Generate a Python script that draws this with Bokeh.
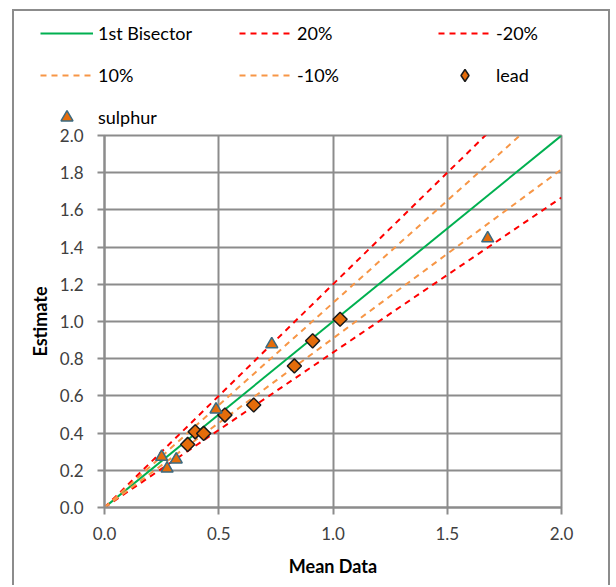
import math
from bokeh.plotting import figure
from bokeh.models import Legend, LegendItem, Range1d, FixedTicker, CustomJSTickFormatter
from bokeh.embed import file_html
from bokeh.resources import INLINE

# ---- data ----
lead_x = [0.364, 0.397, 0.434, 0.527, 0.653, 0.831, 0.911, 1.031]
lead_y = [0.339, 0.407, 0.398, 0.497, 0.551, 0.761, 0.896, 1.012]
sulphur_x = [0.250, 0.274, 0.314, 0.488, 0.732, 1.677]
sulphur_y = [0.272, 0.209, 0.258, 0.527, 0.878, 1.447]

bisector_x = [0.0, 2.0]
bisector_y = [0.0, 2.0]
plus20_x = [0.0, 2.0]
plus20_y = [0.0, 2.4]
minus20_x = [0.0, 2.0]
minus20_y = [0.0, 1.6667]
plus10_x = [0.0, 2.0]
plus10_y = [0.0, 2.2]
minus10_x = [0.0, 2.0]
minus10_y = [0.0, 1.8182]

yticks = [0.0, 0.2, 0.4, 0.6, 0.8, 1.0, 1.2, 1.4, 1.6, 1.8, 2.0]
xticks = [0.0, 0.5, 1.0, 1.5, 2.0]

FONT = "Lato"
GRID = "#8c8c8c"
GREEN = "#00B050"
RED = "#FF0000"
ORANGE = "#F79646"
MARK = "#E46C0A"
BORDER = "2px solid #8c8c8c"

line_styles = [
    ("1st Bisector", bisector_x, bisector_y, GREEN, None),
    ("20%", plus20_x, plus20_y, RED, "6 5"),
    ("-20%", minus20_x, minus20_y, RED, "6 5"),
    ("10%", plus10_x, plus10_y, ORANGE, "6 5"),
    ("-10%", minus10_x, minus10_y, ORANGE, "6 5"),
]
lead_style = dict(marker="square", angle=math.pi / 4, size=10, fill_color=MARK,
                  line_color="#1a1a1a", line_width=1.5)
sul_style = dict(marker="triangle", size=12, fill_color=MARK,
                 line_color="#3B6A80", line_width=1.5)

# ---------------- main plot ----------------
p = figure(width=598, height=459, output_backend="svg", toolbar_location=None,
           x_range=Range1d(0, 2), y_range=Range1d(0, 2),
           min_border_left=90, min_border_right=51, min_border_top=9, min_border_bottom=78)
p.margin = (0, 0, 0, 12)
p.styles = {"border-left": BORDER, "border-right": BORDER}
p.outline_line_color = GRID
p.outline_line_width = 2

for ax in (p.xaxis[0], p.yaxis[0]):
    ax.axis_line_color = GRID
    ax.axis_line_width = 2
    ax.major_tick_line_color = GRID
    ax.major_tick_line_width = 2
    ax.major_tick_out = 7
    ax.major_tick_in = 0
    ax.minor_tick_line_color = None
    ax.major_label_text_font = FONT
    ax.major_label_text_font_size = "17px"
    ax.major_label_text_color = "#404040"
    ax.axis_label_text_font = FONT
    ax.axis_label_text_font_size = "18px"
    ax.axis_label_text_font_style = "bold"
    ax.axis_label_text_color = "#000000"

p.xaxis.ticker = FixedTicker(ticks=xticks)
p.yaxis.ticker = FixedTicker(ticks=yticks)
fmt = CustomJSTickFormatter(code="return tick.toFixed(1);")
p.xaxis.formatter = fmt
p.yaxis.formatter = fmt
p.xaxis.axis_label = "Mean Data"
p.yaxis.axis_label = "Estimate"
p.xaxis.major_label_standoff = 12
p.yaxis.major_label_standoff = 14
p.xaxis.axis_label_standoff = 12
p.yaxis.axis_label_standoff = 6

p.xgrid.grid_line_color = GRID
p.xgrid.grid_line_width = 2
p.ygrid.grid_line_color = GRID
p.ygrid.grid_line_width = 2

for name, xs, ys, col, dash in line_styles:
    kw = dict(line_color=col, line_width=2)
    if dash:
        kw["line_dash"] = dash
    p.line(xs, ys, **kw)
p.scatter(lead_x, lead_y, **lead_style)
p.scatter(sulphur_x, sulphur_y, **sul_style)

# ---------------- legend strip (separate root, own frame) ----------------
lg = figure(width=598, height=117, output_backend="svg", toolbar_location=None,
            x_range=Range1d(0, 1), y_range=Range1d(0, 1),
            min_border=0, min_border_left=0, min_border_right=0,
            min_border_top=0, min_border_bottom=0)
lg.margin = (9, 0, 0, 12)
lg.styles = {"border-left": BORDER, "border-top": BORDER, "border-right": BORDER}
lg.axis.visible = False
lg.grid.visible = False
lg.outline_line_color = None

# legend proxies: one point each, placed outside the visible range
proxy_x = [5.0]
proxy_y = [5.0]
renders = {}
for name, xs, ys, col, dash in line_styles:
    kw = dict(line_color=col, line_width=2)
    if dash:
        kw["line_dash"] = dash
    renders[name] = lg.line(proxy_x * 2, proxy_y * 2, **kw)
renders["lead"] = lg.scatter(proxy_x, proxy_y, marker="diamond", fill_color=MARK,
                             line_color="#1a1a1a", line_width=1.5)
renders["sulphur"] = lg.scatter(proxy_x, proxy_y, **sul_style)

order = ["1st Bisector", "20%", "-20%", "10%", "-10%", "lead", "sulphur"]
items = [LegendItem(label=n, renderers=[renders[n]]) for n in order]
legend = Legend(items=items, location=(26, -4), ncols=3, orientation="horizontal",
                glyph_width=53, glyph_height=30, label_height=30, label_width=129,
                label_standoff=5, spacing=12, padding=0, margin=0,
                border_line_alpha=0, background_fill_alpha=0,
                label_text_font=FONT, label_text_font_size="18px", label_text_color="#000000")
lg.add_layout(legend, "center")

open("out.html", "w").write(file_html([lg, p], INLINE))
